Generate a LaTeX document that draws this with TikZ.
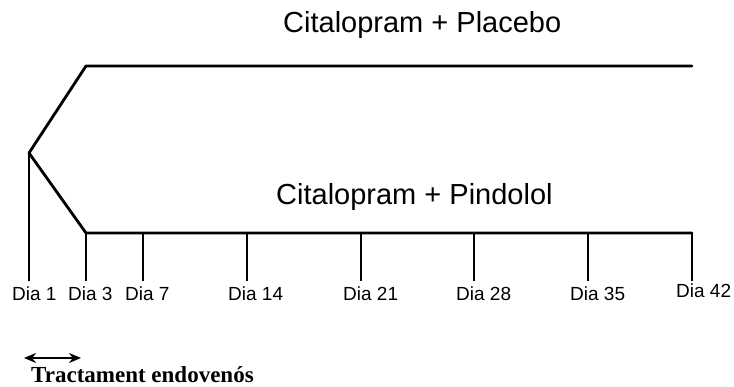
\documentclass[tikz,border=0pt]{standalone}
\usepackage{fontspec}
\setmainfont{Liberation Sans}
\newfontfamily\timesbf{Liberation Serif}
\usetikzlibrary{arrows.meta}
\begin{document}
\begin{tikzpicture}[x=1pt,y=-1pt,
  mainline/.style={line width=2.8pt,line cap=round,line join=round},
  tickline/.style={line width=1.6pt},
  title/.style={font=\fontsize{29}{31}\selectfont,anchor=base west,inner sep=0pt},
  daylabel/.style={font=\fontsize{19}{21}\selectfont,anchor=base west,inner sep=0pt}]
\useasboundingbox (0,0) rectangle (734,387);
% branch structure
\coordinate (br) at (29,153);
\coordinate (ts) at (86,66);
\coordinate (te) at (692,66);
\coordinate (bs) at (86,233);
\coordinate (be) at (692,233);
\draw[mainline] (te) -- (ts) -- (br) -- (bs) -- (be);
% titles
\node[title] (tplac) at (283,33) {Citalopram + Placebo};
\node[title] (tpind) at (276,205) {Citalopram + Pindolol};
% ticks
\coordinate (d1) at (29,281);
\draw[tickline] (br) -- (d1);
\foreach \n/\x in {d3/86,d7/143,d14/247,d21/361,d28/474,d35/588,d42/692}{
  \coordinate (\n top) at (\x,233);
  \coordinate (\n) at (\x,281);
  \draw[tickline] (\n top) -- (\n);
}
% labels
\node[daylabel] (l1) at (12,301) {Dia 1};
\node[daylabel] (l3) at (68,301) {Dia 3};
\node[daylabel] (l7) at (125,301) {Dia 7};
\node[daylabel] (l14) at (228,301) {Dia 14};
\node[daylabel] (l21) at (343,301) {Dia 21};
\node[daylabel] (l28) at (456,301) {Dia 28};
\node[daylabel] (l35) at (570,301) {Dia 35};
\node[daylabel] (l42) at (676,298) {Dia 42};
% treatment arrow
\coordinate (aL) at (24,358);
\coordinate (aR) at (81,358);
\draw[line width=2.4pt,{Stealth[length=12pt,width=10pt]}-{Stealth[length=12pt,width=10pt]}] (aL) -- (aR);
\node[font=\timesbf\bfseries\fontsize{23}{25}\selectfont,anchor=base west,inner sep=0pt] (tract) at (31,383) {Tractament endovenós};
\end{tikzpicture}
\end{document}
